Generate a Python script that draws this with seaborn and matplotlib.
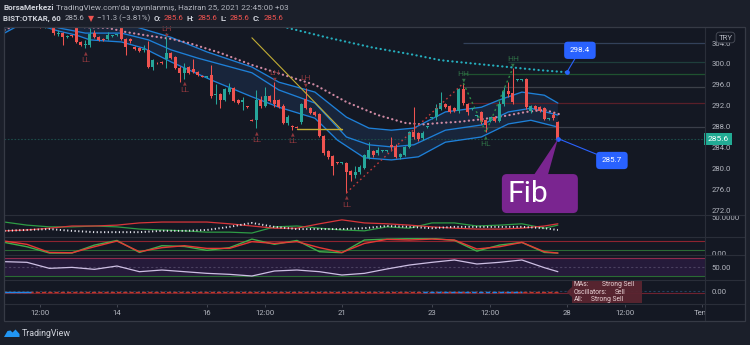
import numpy as np
import pandas as pd
import matplotlib
matplotlib.use("Agg")
import matplotlib.pyplot as plt
import matplotlib.transforms as mtransforms
from matplotlib.patches import Rectangle, FancyBboxPatch, Polygon
from matplotlib.lines import Line2D
import seaborn as sns

# ------------------------------------------------------------------ data
bar_index = list(range(-5, 119))
opens = [309.5, 310.0, 309.3, 309.8, 309.0, 308.6, 308.9, 308.2, 307.6, 307.0,
         307.3, 307.4, 305.8, 305.9, 305.2, 305.4, 307.3, 304.2, 303.6, 303.6,
         305.9, 305.1, 304.8, 304.8, 305.3, 305.5, 307.3, 304.8, 304.7, 303.3,
         303.0, 302.7, 302.7, 299.5, 300.2, 300.3, 301.0, 302.1, 301.3, 299.2,
         298.3, 299.4, 299.0, 298.4, 297.6, 297.5, 297.9, 294.0, 294.2, 293.0,
         294.6, 295.3, 293.1, 292.7, 291.8, 289.2, 289.2, 293.1, 291.9, 293.8,
         293.1, 293.0, 291.9, 288.7, 288.0, 287.9, 288.9, 293.3, 291.5, 290.8,
         290.4, 286.2, 283.3, 282.3, 281.1, 281.0, 281.0, 279.5, 278.8, 279.3,
         280.1, 282.0, 283.3, 282.9, 283.3, 283.3, 284.5, 284.3, 282.2, 282.5,
         284.1, 286.9, 286.7, 285.8, 287.9, 289.6, 289.8, 291.4, 292.4, 291.9,
         291.5, 290.9, 295.2, 292.4, 291.4, 290.0, 290.8, 289.2, 289.1, 289.8,
         289.1, 292.3, 294.8, 294.4, 296.9, 297.0, 297.1, 291.0, 291.9, 291.7,
         291.5, 289.5, 290.2, 288.9]
highs = [310.5, 310.3, 310.0, 310.0, 309.3, 309.2, 309.0, 308.4, 307.8, 307.6,
         307.8, 307.6, 306.4, 306.2, 305.6, 305.6, 307.5, 304.3, 304.6, 306.9,
         306.5, 305.3, 305.0, 306.2, 305.6, 305.8, 307.5, 305.0, 304.9, 303.5,
         303.2, 303.6, 304.4, 301.0, 300.4, 300.5, 305.9, 302.3, 301.6, 299.6,
         300.1, 299.6, 301.0, 298.6, 297.8, 297.7, 299.8, 296.2, 294.4, 295.4,
         296.3, 295.5, 293.3, 293.7, 292.0, 289.4, 295.0, 293.9, 295.6, 294.0,
         296.5, 293.2, 292.3, 290.3, 288.2, 288.1, 292.6, 295.4, 291.7, 291.0,
         290.6, 286.4, 283.5, 282.6, 281.3, 281.2, 281.2, 279.7, 280.5, 280.7,
         282.7, 285.0, 283.5, 284.0, 283.5, 283.5, 286.0, 284.6, 282.9, 284.3,
         287.2, 291.7, 286.9, 287.2, 288.1, 289.8, 292.3, 294.6, 292.6, 292.1,
         291.7, 295.3, 296.3, 292.6, 291.6, 290.2, 291.0, 289.4, 289.9, 290.0,
         292.8, 295.5, 296.6, 299.2, 297.1, 297.2, 297.3, 292.2, 292.1, 291.9,
         291.7, 289.7, 290.7, 289.0]
lows = [309.0, 309.0, 309.0, 308.8, 308.2, 308.3, 308.0, 307.4, 306.8, 306.8,
        307.0, 305.6, 305.4, 303.6, 305.0, 305.1, 304.0, 303.5, 303.0, 303.2,
        305.0, 304.4, 304.4, 304.5, 305.1, 305.3, 304.6, 301.8, 304.1, 302.7,
        302.2, 302.3, 299.2, 298.8, 300.0, 300.0, 299.3, 300.9, 299.0, 296.5,
        297.2, 298.1, 298.2, 297.7, 297.4, 297.3, 293.5, 292.3, 291.5, 292.8,
        294.2, 292.7, 292.4, 291.2, 291.6, 289.0, 287.7, 291.6, 291.7, 292.7,
        291.8, 291.5, 288.5, 288.3, 287.4, 287.7, 288.4, 291.3, 290.4, 290.0,
        286.0, 282.5, 281.8, 278.7, 280.8, 280.8, 275.3, 277.6, 278.2, 279.0,
        279.8, 281.8, 282.1, 282.6, 283.1, 283.1, 283.4, 281.9, 281.8, 282.3,
        283.8, 285.7, 285.3, 285.5, 287.7, 289.4, 289.2, 291.1, 291.5, 290.6,
        290.8, 290.6, 292.2, 290.3, 291.2, 289.8, 288.5, 286.9, 288.9, 288.9,
        288.9, 292.0, 293.6, 292.4, 296.7, 296.8, 291.4, 290.6, 291.1, 290.8,
        289.2, 289.3, 289.3, 285.6]
closes = [310.0, 309.2, 309.8, 309.0, 308.5, 308.9, 308.2, 307.6, 307.0, 307.3,
          307.4, 305.9, 306.0, 305.1, 305.4, 305.3, 304.2, 303.6, 303.9, 305.7,
          305.1, 304.6, 304.6, 305.5, 305.4, 305.6, 304.8, 303.2, 304.3, 302.9,
          302.5, 302.9, 299.4, 300.7, 300.1, 300.2, 302.1, 301.2, 299.2, 298.3,
          299.2, 298.3, 298.4, 297.9, 297.5, 297.5, 293.8, 294.2, 293.1, 295.2,
          295.3, 292.9, 292.6, 293.1, 291.7, 289.1, 293.1, 292.0, 293.8, 292.9,
          292.4, 291.7, 288.7, 289.8, 287.9, 287.8, 292.3, 291.5, 290.6, 290.2,
          286.2, 282.9, 282.2, 280.4, 281.0, 281.0, 279.3, 278.7, 279.3, 280.2,
          282.5, 283.5, 282.5, 283.5, 283.3, 283.3, 284.1, 282.2, 282.7, 284.1,
          286.9, 286.0, 285.6, 286.7, 287.9, 289.6, 291.5, 292.5, 291.7, 290.8,
          291.0, 295.1, 292.5, 290.7, 291.4, 290.0, 288.9, 288.3, 289.8, 289.1,
          292.3, 294.8, 294.2, 292.7, 296.9, 297.0, 291.7, 291.9, 291.3, 291.0,
          289.4, 289.5, 289.6, 285.6]

# channel (upper / basis / lower) read at sample bars
upper_x = [-5, 0, 10, 20, 25, 32, 40, 50, 56, 64, 71, 76, 81, 86, 93, 101, 105, 110, 115, 118]
upper_y = [313.0, 312.5, 311.0, 308.3, 306.9, 305.1, 302.3, 299.4, 296.5, 294.6, 289.8,
           287.7, 287.3, 287.7, 290.8, 291.7, 293.1, 294.6, 294.0, 292.5]
basis_x = [-5, 3, 7, 13, 21, 27, 32, 38, 50, 56, 64, 71, 76, 81, 86, 93, 101, 107, 112, 118]
basis_y = [310.0, 308.5, 306.9, 305.9, 305.9, 304.6, 302.7, 301.1, 298.3, 295.0, 292.5,
           286.0, 284.5, 284.1, 284.5, 287.3, 288.3, 290.8, 291.5, 290.2]
lower_x = [-5, -2, 2, 7, 11, 14, 21, 26, 32, 41, 50, 56, 64, 69, 75, 81, 87, 93, 101, 107, 112, 118]
lower_y = [305.9, 307.3, 307.6, 306.3, 305.5, 304.6, 304.2, 303.0, 300.4, 296.9, 293.7,
           291.7, 289.6, 285.4, 282.0, 281.6, 282.2, 285.0, 286.0, 288.5, 289.2, 287.9]
# pink dotted average
pink_x = [-5, -2, 2, 8, 13, 18, 22, 27, 32, 36, 43, 50, 57, 64, 71, 78, 84, 88, 92, 96,
          101, 106, 111, 115, 119]
pink_y = [306.5, 307.6, 308.2, 307.8, 307.0, 306.9, 306.1, 305.4, 304.8, 304.0, 302.1,
          299.8, 297.9, 296.0, 292.7, 290.2, 288.7, 288.4, 288.7, 288.9, 289.4, 290.0,
          290.8, 291.2, 290.2]
# teal dotted long average
teal_x = [50, 57, 67, 77, 85, 92, 100, 107, 114, 120]
teal_y = [308.6, 307.1, 305.0, 303.1, 301.9, 300.7, 300.0, 299.4, 298.8, 298.4]

# pivot labels (bar, text)
pivot_bars = [13, 31, 35, 51, 55, 59, 62, 71, 97, 102, 108]
pivot_text = ["LL", "LH", "LL", "LL", "LH", "LL", "LH", "LL", "HH", "HL", "HH"]

# drawings
trend_x = [50, 70]
trend_y = [305.0, 287.3]
shelf_x = [60, 70]
shelf_y = [287.5, 287.5]
level_prices = [304.0, 300.4, 298.1, 295.6, 292.5, 288.0]
level_start = [97, 107, 97, 97, 98, 97]
level_colors = ["#33415a", "#1e3e3b", "#1f5230", "#3c4049", "#5a1f29", "#3a3e49"]
last_price = 285.6
callout_hi = (120, 298.4)
callout_lo = (118, 285.7)

# lower panels, sampled every 5 bars
osc_x = [-5, 0, 5, 10, 15, 20, 25, 30, 35, 40, 45, 50, 55, 60, 65, 70, 75, 80, 85, 90,
         95, 100, 105, 110, 115, 118]
di_plus = [39, 32, 28, 28, 30, 28, 23, 21, 19, 16, 16, 14, 28, 30, 25, 21, 19, 28, 25, 37,
           37, 30, 32, 35, 25, 32]
di_minus = [19, 21, 25, 30, 30, 32, 37, 39, 39, 39, 35, 30, 25, 25, 35, 44, 37, 35, 32, 28,
            25, 23, 23, 25, 30, 35]
adx = [19, 21, 23, 19, 16, 16, 16, 19, 19, 21, 28, 37, 28, 23, 23, 23, 25, 30, 28, 25,
       28, 28, 28, 28, 25, 21]
stoch_k = [71, 42, 0, 0, 53, 84, 4, 49, 44, 18, 36, 93, 58, 84, 9, 2, 87, 93, 96, 98,
           84, 13, 53, 71, 4, 0]
stoch_d = [80, 58, 4, 2, 42, 80, 9, 36, 49, 31, 31, 76, 64, 76, 36, 4, 64, 91, 87, 93,
           87, 27, 42, 71, 9, 0]
rsi = [61.9, 60.4, 47.0, 49.2, 44.8, 52.2, 39.6, 43.3, 39.6, 35.9, 33.7, 30.0, 41.1, 43.3,
       39.6, 32.2, 35.9, 45.6, 54.4, 60.4, 65.6, 56.7, 60.4, 65.6, 48.5, 39.6]

# time axis
tick_pos = [3, 20, 40, 53, 70, 90, 103, 120, 133, 150]
tick_lab = ["12:00", "14", "16", "12:00", "21", "23", "12:00", "28", "12:00", "Tem"]

# ------------------------------------------------------------------ style
W, H = 750, 345
FIG_BG = "#1b1f2a"
BG = "#141823"
GRID = "#2a2e39"
TXT = "#b2b5be"
TXT2 = "#d1d4dc"
UP = "#26a69a"
DN = "#ef5350"
FS = 5.6
FAM = ["Roboto", "DejaVu Sans"]

sns.set_theme(style="dark", rc={"axes.facecolor": BG, "figure.facecolor": FIG_BG,
                                "savefig.facecolor": FIG_BG, "axes.edgecolor": GRID})
plt.rcParams["font.family"] = FAM

fig = plt.figure(figsize=(W / 100, H / 100), dpi=100)
PX = mtransforms.Affine2D().scale(1 / W, -1 / H).translate(0, 1) + fig.transFigure
renderer = fig.canvas.get_renderer()


def rect(x0, y0, x1, y1):
    return [x0 / W, 1 - y1 / H, (x1 - x0) / W, (y1 - y0) / H]


XL = (-5.1, 150.7)
YL = (271.05, 307.07)
PL, PR = 4, 705

# chart background incl. price scale
fig.patches.append(Rectangle((4, 27), 741, 294, transform=PX, fc=BG, ec="none", zorder=-5))


def panel(y0, y1, ylim):
    a = fig.add_axes(rect(PL, y0, PR, y1))
    a.set_facecolor(BG)
    a.set_xlim(*XL)
    a.set_ylim(*ylim)
    for s in a.spines.values():
        s.set_visible(False)
    a.grid(False)
    a.set_xticks([])
    a.yaxis.tick_right()
    a.tick_params(axis="y", length=0, pad=5, labelsize=FS, labelcolor=TXT)
    a.set_xlabel("")
    a.set_ylabel("")
    return a


# ------------------------------------------------------------------ main panel
ax = panel(27, 215, YL)
df = pd.DataFrame({"i": bar_index, "open": opens, "high": highs, "low": lows, "close": closes})
col = np.where(df["close"] >= df["open"], UP, DN)

# channel fill + lines
ax.fill(list(upper_x) + list(lower_x)[::-1], list(upper_y) + list(lower_y)[::-1],
        color="#1a2a44", alpha=0.75, lw=0, zorder=1)
for xs, ys in ((upper_x, upper_y), (basis_x, basis_y), (lower_x, lower_y)):
    sns.lineplot(x=xs, y=ys, ax=ax, color="#1e80d8", linewidth=0.95, errorbar=None, zorder=2)

# horizontal levels
for p, s, c in zip(level_prices, level_start, level_colors):
    ax.hlines(p, s, XL[1], colors=c, lw=0.9, zorder=1)
ax.axhline(last_price, color="#1d4c4a", lw=0.8, ls=(0, (1.5, 1.5)), zorder=1)

# dotted averages
ax.plot(pink_x, pink_y, color="#cf8aa3", lw=1.6, ls=(0, (0.1, 1.95)),
        dash_capstyle="round", zorder=3)
ax.plot(teal_x, teal_y, color="#25aebd", lw=1.6, ls=(0, (0.1, 1.95)),
        dash_capstyle="round", zorder=3)

# candles
ax.vlines(df["i"], df["low"], df["high"], colors=col, lw=0.75, zorder=4)
body = (df["close"] - df["open"]).abs().clip(lower=0.15)
ax.bar(df["i"], body, bottom=np.minimum(df["open"], df["close"]), width=0.68,
       color=col, lw=0, zorder=5)

# trend drawings
ax.plot(trend_x, trend_y, color="#c2ad35", lw=0.8, zorder=6)
ax.plot(shelf_x, shelf_y, color="#c2ad35", lw=1.0, zorder=6)

# zigzag
zz = dict(zip(bar_index, zip(highs, lows)))
ax.plot([71, 97], [zz[71][1], zz[97][0]], color="#c23b3b", lw=1.0, ls=(0, (1.2, 2.2)), zorder=6)
ax.plot([97, 102, 108], [zz[97][0], zz[102][1], zz[108][0]], color="#2e8b45", lw=1.0,
        ls=(0, (1.5, 2.2)), zorder=6)

# pivot labels
for b, t in zip(pivot_bars, pivot_text):
    hi, lo = zz[b]
    c = "#8e373d" if t.startswith("L") else "#307347"
    if t in ("LL", "HL"):
        ax.annotate("▲", xy=(b, lo), xytext=(0, -3.2), textcoords="offset points",
                    ha="center", va="center", fontsize=3.4, color=c, zorder=7,
                    family=["DejaVu Sans"])
        ax.annotate(t, xy=(b, lo), xytext=(0, -8.5), textcoords="offset points",
                    ha="center", va="center", fontsize=6.0, color=c, zorder=7)
    else:
        top = min(hi, YL[1] - 2.1)   # keep label inside the pane
        ax.annotate("▼", xy=(b, top), xytext=(0, 2.2), textcoords="offset points",
                    ha="center", va="center", fontsize=3.4, color=c, zorder=7,
                    family=["DejaVu Sans"])
        ax.annotate(t, xy=(b, top), xytext=(0, 6.8), textcoords="offset points",
                    ha="center", va="center", fontsize=6.0, color=c, zorder=7)

ax.set_yticks([272, 276, 280, 284, 288, 292, 296, 300, 304])
ax.set_yticklabels([f"{v:.1f}" for v in [272, 276, 280, 284, 288, 292, 296, 300, 304]],
                   family=FAM)

# last price tag on scale
ax.annotate(f"{last_price:.1f}", xy=(1.0, last_price), xycoords=ax.get_yaxis_transform(),
            xytext=(1.6, 0), textcoords="offset points", ha="left", va="center",
            fontsize=FS + 0.4, color="white", zorder=10, annotation_clip=False,
            bbox=dict(boxstyle="square,pad=0.4", fc="#22ab94", ec="none"))

# blue price callouts
BLUE = "#2962ff"
for (bx, by), off in ((callout_hi, (9.4, 15.8)), (callout_lo, (38.9, -15.8))):
    ax.annotate(f"{by:.1f}", xy=(bx, by), xytext=off, textcoords="offset points",
                ha="center", va="center", fontsize=FS + 0.2, color="white", zorder=9,
                annotation_clip=False,
                bbox=dict(boxstyle="round,pad=0.7,rounding_size=0.45", fc=BLUE, ec="none"),
                arrowprops=dict(arrowstyle="-", color=BLUE, lw=0.8, shrinkA=0, shrinkB=0))
    ax.plot([bx], [by], marker="o", ms=2.4, color=BLUE, zorder=9)

# Fib callout
fig.canvas.draw()
tip = ax.transData.transform((bar_index[-1], lows[-1]))
tx, ty = tip[0], H - tip[1]
fig.patches.append(FancyBboxPatch((tx - 56, ty + 35), 76, 39, transform=PX,
                                  boxstyle="round,pad=0,rounding_size=5",
                                  fc="#7a2590", ec="none", zorder=8))
fig.patches.append(Polygon([(tx, ty), (tx - 24, ty + 36), (tx - 10, ty + 36)], closed=True,
                           transform=PX, fc="#7a2590", ec="none", zorder=8))
fig.text(tx - 50, ty + 55, "Fib", transform=PX, ha="left", va="center", fontsize=21.5,
         color="white", zorder=9)

# ------------------------------------------------------------------ DMI panel
a2 = panel(215, 237, (5, 55))
sns.lineplot(x=osc_x, y=di_plus, ax=a2, color="#2e9c45", linewidth=0.9, errorbar=None)
sns.lineplot(x=osc_x, y=di_minus, ax=a2, color="#d9363a", linewidth=0.9, errorbar=None)
a2.plot(osc_x, adx, color="#e6e6ee", lw=1.4, ls=(0, (0.6, 1.3)), zorder=3)
a2.set_yticks([50])
a2.set_yticklabels(["50.0000"], family=FAM)

# ------------------------------------------------------------------ Stochastic panel
a3 = panel(237, 255, (-13, 107))
a3.axhline(80, color="#8e2430", lw=0.8)
a3.axhline(20, color="#2a6a34", lw=0.8)
sns.lineplot(x=osc_x, y=stoch_k, ax=a3, color="#3fae4a", linewidth=1.0, errorbar=None)
sns.lineplot(x=osc_x, y=stoch_d, ax=a3, color="#e53935", linewidth=1.0, errorbar=None)
a3.set_yticks([0])
a3.set_yticklabels(["0.00"], family=FAM)

# ------------------------------------------------------------------ RSI panel
a4 = panel(255, 280, (21.1, 76.7))
a4.axhspan(30, 70, color="#251a3a", lw=0)
a4.axhline(70, color="#8f2a4c", lw=0.8)
a4.axhline(30, color="#2a6a34", lw=0.8)
a4.axhline(50, color="#4a4060", lw=0.8, ls=(0, (2, 2)))
sns.lineplot(x=osc_x, y=rsi, ax=a4, color="#cdbfe3", linewidth=0.9, errorbar=None)
a4.set_yticks([50])
a4.set_yticklabels(["50.00"], family=FAM)

# ------------------------------------------------------------------ Ratings panel
a5 = panel(280, 304, (-1, 1))
a5.axhline(-0.1, color="#6e2230", lw=0.8)
a5.axhline(0.08, color="#24405e", lw=0.8, ls=(0, (2, 2)))
a5.hlines(0, bar_index[0], bar_index[-1], colors="#c0392b", lw=1.0, ls=(0, (3, 1.5)))
a5.hlines(0, bar_index[0], 1, colors="#1e88e5", lw=1.0)
a5.hlines(0, 88, 110, colors="#1e88e5", lw=1.0, ls=(0, (3, 2)))
a5.set_yticks([0])
a5.set_yticklabels(["0.00"], family=FAM)
fig.canvas.draw()
rp = a5.transData.transform((bar_index[-1], 0))
rx, ry = rp[0], H - rp[1]
fig.patches.append(Rectangle((rx + 14, ry - 12), 70, 23, transform=PX, fc="#5a2530",
                             ec="none", alpha=0.95, zorder=8))
fig.patches.append(Polygon([(rx + 9, ry), (rx + 14, ry - 5), (rx + 14, ry + 5)], closed=True,
                           transform=PX, fc="#5a2530", ec="none", zorder=8))
for k, (l1, l2, dx) in enumerate((("MAs:", "Strong Sell", 28), ("Oscillators:", "Sell", 41),
                                   ("All:", "Strong Sell", 17))):
    fig.text(rx + 16, ry - 7.5 + 7.7 * k, l1, transform=PX, ha="left", va="center",
             fontsize=4.9, color="#ead3d6", zorder=9)
    fig.text(rx + 16 + dx, ry - 7.5 + 7.7 * k, l2, transform=PX, ha="left", va="center",
             fontsize=4.9, color="#ead3d6", zorder=9)

# ------------------------------------------------------------------ time axis
at = fig.add_axes(rect(PL, 304, PR, 321))
at.set_facecolor(BG)
at.set_xlim(*XL)
at.set_ylim(0, 1)
for s in at.spines.values():
    s.set_visible(False)
at.set_yticks([])
at.set_xticks(tick_pos)
at.tick_params(axis="x", top=True, bottom=False, labelbottom=False, direction="in",
               length=2.5, width=0.6, color="#4a4e59")
for p, l in zip(tick_pos, tick_lab):
    at.text(p, 0.48, l, transform=at.get_xaxis_transform(), ha="center", va="center",
            fontsize=FS, color=TXT, clip_on=False)
fig.patches.append(Rectangle((705.5, 305), 39, 15.5, transform=PX, fc=BG, ec="none", zorder=20))

# ------------------------------------------------------------------ frame
for y in (215, 237, 255, 280, 304):
    fig.lines.append(Line2D([4, 745], [y, y], transform=PX, color=GRID, lw=0.8, zorder=21))
fig.lines.append(Line2D([705, 705], [27, 321], transform=PX, color=GRID, lw=0.8, zorder=21))
fig.patches.append(Rectangle((4, 27), 741, 294, transform=PX, fc="none", ec="#363a45",
                             lw=0.9, zorder=21))

# TRY badge
fig.text(725.5, 37.5, "TRY", transform=PX, ha="center", va="center", fontsize=FS, color=TXT,
         zorder=22, bbox=dict(boxstyle="round,pad=0.3,rounding_size=0.4", fc=BG, ec="#4a4e59",
                              lw=0.6))

# ------------------------------------------------------------------ header
probe = fig.text(0, 0, "TradingView.com'da yayınlanmış, Haziran 25, 2021 22:45:00 +03",
                 fontsize=10, family=FAM)
HFS = 10 * 232 / probe.get_window_extent(renderer).width
probe.remove()
hdr_rows = [
    (8, HFS, [(3, "BorsaMerkezi", "bold", TXT2),
              (56, "TradingView.com'da yayınlanmış, Haziran 25, 2021 22:45:00 +03", "normal",
               TXT)]),
    (18.5, HFS * 0.97, [(3, "BIST:OTKAR, 60", "bold", TXT2),
                        (65, "285.6", "normal", TXT),
                        (86, "▼", "normal", DN),
                        (95, "−11.3 (−3.81%)", "normal", TXT),
                        (152, "O:", "bold", TXT2),
                        (162, "285.6", "normal", DN),
                        (185, "H:", "bold", TXT2),
                        (195, "285.6", "normal", DN),
                        (217, "L:", "bold", TXT2),
                        (225, "285.6", "normal", DN),
                        (247, "C:", "bold", TXT2),
                        (256, "285.6", "normal", DN)]),
]
for y, fs, pieces in hdr_rows:
    end = -10
    for x, s, w, c in pieces:
        x0 = max(x, end + 3)
        t = fig.text(x0, y, s, transform=PX, ha="left", va="center", fontsize=fs, color=c,
                     fontweight=w, family=FAM)
        bb = t.get_window_extent(renderer)
        end = x0 + bb.width

# footer logo
fig.patches.append(Polygon([(4, 337), (7.5, 331), (10.5, 330.5), (12.5, 332.5), (15.5, 329.5),
                            (19.5, 334), (19.5, 337)], closed=True, transform=PX,
                           fc="#2196f3", ec="none"))
fig.text(22, 333, "TradingView", transform=PX, ha="left", va="center", fontsize=FS + 0.8,
         color=TXT2)

fig.savefig("out.png", dpi=100, facecolor=FIG_BG)
